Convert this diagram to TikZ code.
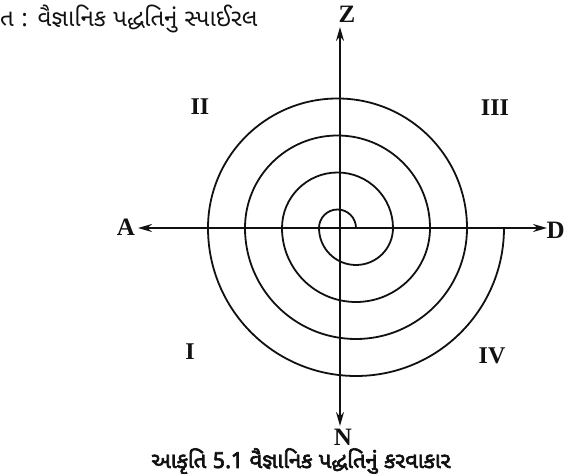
\documentclass[tikz,border=0pt]{standalone}
\usepackage{fontspec}
\setmainfont{Liberation Serif}
\newfontfamily\gujfont[Script=Gujarati]{Noto Sans Gujarati UI}
\newfontfamily\gujboldfont[Script=Gujarati,FakeBold=3]{Noto Sans Gujarati UI}
\usepackage{tikz}
\usetikzlibrary{arrows.meta,positioning}
\definecolor{Ink}{HTML}{111111}
\tikzset{
  axisline/.style={draw=Ink, line width=1.9pt, -{Stealth[length=14pt,width=8pt]}},
  spiralline/.style={draw=Ink, line width=1.8pt},
  axislabel/.style={font=\bfseries\fontsize{25}{25}\selectfont, text=Ink, inner sep=0pt},
  quadlabel/.style={font=\bfseries\fontsize{24}{24}\selectfont, text=Ink, inner sep=0pt},
  titletext/.style={font=\gujfont\fontsize{24}{24}\selectfont, text=Ink, inner sep=0pt},
  captiontext/.style={font=\gujboldfont\fontsize{22}{22}\selectfont, text=Ink, inner sep=0pt}
}

\begin{document}
\begin{tikzpicture}[x=1pt,y=1pt]
  \useasboundingbox (0,0) rectangle (566,474);
  \coordinate (O) at (340,246);
  % axes
  \coordinate (Ztip) at (340,447);
  \coordinate (Ntip) at (340,48);
  \coordinate (Atip) at (138,246);
  \coordinate (Dtip) at (547,246);
  \draw[axisline] (O) -- (Ztip);
  \draw[axisline] (O) -- (Ntip);
  \draw[axisline] (O) -- (Atip);
  \draw[axisline] (O) -- (Dtip);
  \node[axislabel] (Z) at (347,460) {Z};
  \node[axislabel] (N) at (343,37) {N};
  \node[axislabel] (A) at (126,247) {A};
  \node[axislabel, anchor=east] (D) at (565,244) {D};
  % spiral of half circles about two centres
  \draw[spiralline] (356,246)
    \foreach \r in {18.5,55.5,92.5,129.5} {
      arc[start angle=0,end angle=180,radius=\r]
      arc[start angle=180,end angle=360,radius=\r+18.5]
    };
  % quadrants
  \node[quadlabel] (q2) at (200,367) {II};
  \node[quadlabel] (q3) at (495,366) {III};
  \node[quadlabel] (q1) at (190,122) {I};
  \node[quadlabel] (q4) at (492,118) {IV};
  % texts
  \node[titletext, anchor=west] (title) at (0,455) {ત : વૈજ્ઞાનિક પદ્ધતિનું સ્પાઈરલ};
  \begin{scope}
    \clip (0,0) rectangle (566,474);
    \node[captiontext, anchor=base] (caption) at (301,6) {આકૃતિ 5.1 વૈજ્ઞાનિક પદ્ધતિનું કરવાકાર};
  \end{scope}
\end{tikzpicture}
\end{document}
